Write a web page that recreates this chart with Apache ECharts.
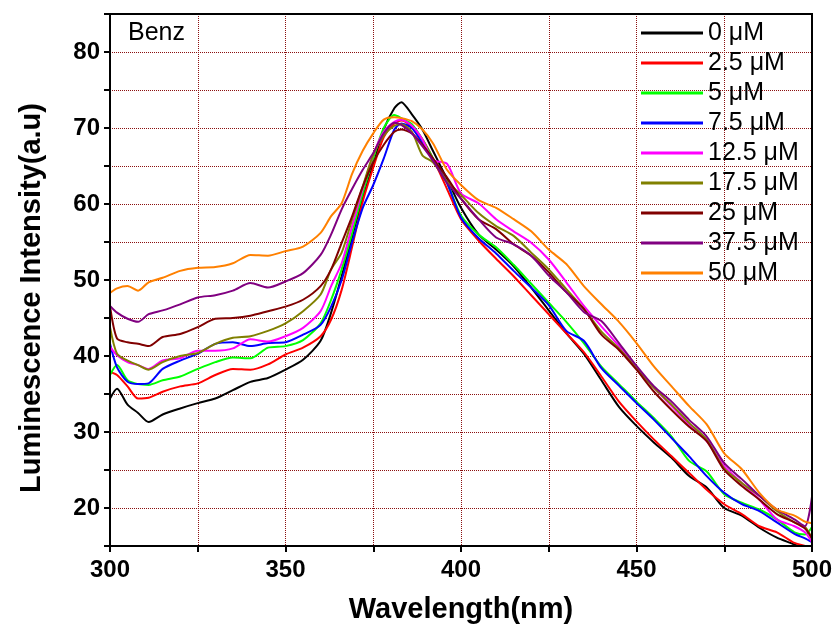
<!DOCTYPE html>
<html>
<head>
<meta charset="utf-8">
<script src="https://cdn.jsdelivr.net/npm/echarts@6/dist/echarts.min.js"></script>
<style>
  html, body { margin: 0; padding: 0; background: #fff; }
  #main { width: 839px; height: 628px; }
</style>
</head>
<body>
<div id="main"></div>
<script>
var wl = [300, 302, 305, 308, 311, 315, 320, 325, 330, 335,
          340, 345, 350, 355, 360, 363, 366, 369, 372, 375,
          378, 381, 383, 386, 389, 392, 396, 400, 405, 410,
          415, 420, 425, 430, 435, 440, 445, 450, 455, 460,
          465, 470, 475, 480, 485, 490, 495, 498, 500];

var names = ['0 μM', '2.5 μM', '5 μM', '7.5 μM', '12.5 μM', '17.5 μM', '25 μM', '37.5 μM', '50 μM'];
var colors = ['#000000', '#ff0000', '#00ff00', '#0000ff', '#ff00ff', '#808000', '#800000', '#800080', '#ff8000'];

var c0 = [34.4, 35.7, 33.6, 32.5, 31.3, 32.3, 33.1, 33.8, 34.4, 35.5,
          36.6, 37.1, 38.2, 39.5, 42.0, 45.7, 50.5, 55.7, 60.8, 65.2,
          69.8, 72.6, 73.4, 71.8, 69.8, 67.0, 63.3, 59.5, 56.0, 54.0,
          51.8, 49.0, 46.0, 43.0, 40.3, 36.8, 33.3, 30.8, 28.6, 26.6,
          24.2, 22.7, 20.0, 19.0, 17.4, 16.1, 15.2, 14.5, 14.0];
var c25 = [37.9, 37.5, 36.0, 34.4, 34.5, 35.3, 36.0, 36.4, 37.5, 38.3,
           38.2, 38.9, 40.2, 41.1, 42.6, 44.8, 48.7, 54.4, 60.3, 64.8,
           68.8, 70.6, 71.0, 70.2, 68.5, 66.0, 62.0, 58.0, 55.2, 52.8,
           50.5, 48.0, 45.5, 43.0, 40.5, 37.3, 34.0, 31.4, 29.0, 26.8,
           24.6, 22.4, 20.5, 19.2, 17.6, 16.8, 15.4, 15.0, 14.5];
var c5 = [37.5, 38.8, 36.8, 36.3, 36.2, 36.8, 37.3, 38.3, 39.2, 39.8,
          39.7, 41.1, 41.3, 42.1, 44.3, 47.4, 51.4, 56.2, 61.4, 66.0,
          70.0, 71.7, 71.3, 70.5, 68.5, 66.0, 62.8, 58.5, 56.0, 54.3,
          52.0, 49.5, 47.0, 44.5, 41.7, 38.6, 36.3, 34.0, 31.8, 29.4,
          26.2, 24.8, 21.8, 20.7, 19.8, 18.5, 16.8, 16.5, 17.5];
var c75 = [41.6, 38.5, 36.6, 36.3, 36.4, 38.3, 39.4, 40.3, 41.6, 41.8,
           41.3, 41.7, 41.8, 42.8, 44.1, 46.5, 50.0, 55.0, 59.5, 62.5,
           66.0, 69.8, 70.6, 70.0, 68.0, 65.9, 62.8, 58.2, 55.5, 53.5,
           51.2, 49.0, 46.7, 43.3, 42.0, 38.4, 36.1, 33.8, 31.6, 29.2,
           26.8, 24.2, 22.0, 20.5, 19.6, 18.1, 16.6, 16.0, 15.5];
var c125 = [41.2, 40.1, 39.2, 38.8, 38.3, 39.4, 39.7, 40.7, 40.7, 41.0,
            42.2, 41.9, 42.6, 43.7, 45.9, 49.2, 52.2, 57.1, 62.0, 66.5,
            69.5, 70.8, 71.1, 70.3, 68.5, 65.8, 65.3, 61.4, 60.1, 58.0,
            56.4, 54.9, 52.7, 49.7, 46.6, 43.9, 41.3, 38.4, 35.8, 33.4,
            31.0, 28.8, 25.5, 23.3, 21.1, 18.5, 17.6, 16.8, 15.5];
var c175 = [43.8, 40.3, 39.4, 38.8, 38.2, 39.2, 40.0, 40.4, 41.6, 42.4,
            42.6, 43.3, 44.3, 45.9, 48.1, 51.4, 53.6, 58.0, 62.3, 66.5,
            69.0, 70.3, 70.5, 69.5, 66.4, 65.5, 63.0, 61.2, 58.8, 57.1,
            55.8, 53.6, 51.4, 48.8, 46.2, 43.2, 41.0, 38.4, 35.8, 33.6,
            31.2, 29.0, 25.2, 23.3, 21.6, 19.6, 18.1, 17.5, 16.0];
var c250 = [46.6, 42.3, 41.8, 41.6, 41.3, 42.5, 42.9, 43.8, 44.9, 45.0,
            45.3, 45.9, 46.5, 47.4, 49.2, 51.4, 54.9, 58.4, 62.3, 65.5,
            67.8, 69.5, 69.8, 69.3, 67.8, 66.0, 63.5, 60.7, 58.0, 56.7,
            54.7, 53.2, 51.0, 48.4, 46.2, 42.8, 40.8, 38.2, 35.3, 32.9,
            30.7, 28.8, 25.0, 22.9, 21.1, 19.2, 18.1, 17.3, 16.0];
var c375 = [46.6, 45.7, 44.9, 44.5, 45.5, 46.0, 46.8, 47.7, 48.0, 48.6,
            49.6, 49.0, 49.8, 50.9, 53.3, 56.0, 59.3, 62.0, 64.5, 66.7,
            69.3, 70.7, 70.4, 69.3, 67.6, 65.7, 62.8, 60.7, 58.0, 55.6,
            54.7, 53.2, 50.6, 48.4, 45.8, 44.6, 41.7, 38.7, 36.0, 34.0,
            31.6, 29.4, 25.9, 23.8, 21.6, 19.8, 18.5, 17.6, 21.5];
var c500 = [48.3, 48.9, 49.2, 48.6, 49.7, 50.3, 51.2, 51.6, 51.7, 52.2,
            53.3, 53.2, 53.8, 54.4, 56.2, 58.4, 60.1, 64.0, 67.0, 69.3,
            71.1, 71.4, 71.3, 70.9, 69.8, 68.0, 64.5, 62.5, 60.5, 59.5,
            58.0, 56.4, 54.0, 52.1, 49.2, 46.8, 44.5, 41.7, 38.6, 36.0,
            33.4, 31.0, 27.2, 25.1, 22.0, 19.8, 19.0, 18.2, 18.0];

var curves = [c0, c25, c5, c75, c125, c175, c250, c375, c500];

var font = '"Liberation Sans", Arial, sans-serif';

var myChart = echarts.init(document.getElementById('main'));

var series = curves.map(function (vals, i) {
    return {
        name: names[i],
        type: 'line',
        data: wl.map(function (x, j) { return [x, vals[j]]; }),
        symbol: 'none',
        smooth: 0.25,
        clip: true,
        lineStyle: { color: colors[i], width: 2 },
        itemStyle: { color: colors[i] }
    };
});

var option = {
    animation: false,
    backgroundColor: '#fff',
    grid: { left: 110, right: 27, top: 14, bottom: 82 },
    legend: {
        orient: 'vertical',
        left: 641,
        top: 18,
        padding: 0,
        itemGap: 0,
        itemWidth: 62,
        itemHeight: 3,
        icon: 'rect',
        data: names,
        textStyle: { fontFamily: font, fontSize: 25, color: '#000', lineHeight: 30 }
    },
    xAxis: {
        type: 'value',
        min: 300, max: 500, interval: 25,
        axisLine: { lineStyle: { color: '#000', width: 2 } },
        axisTick: { show: true, length: 6, lineStyle: { color: '#000', width: 2 } },
        axisLabel: {
            margin: 12,
            fontFamily: font, fontSize: 24, fontWeight: 'bold', color: '#000',
            formatter: function (v) { return v % 50 === 0 ? v : ''; }
        },
        splitLine: { show: true, lineStyle: { color: '#8b1010', type: 'dotted', width: 1 } }
    },
    yAxis: {
        type: 'value',
        min: 15, max: 85, interval: 5,
        axisLine: { show: true, lineStyle: { color: '#000', width: 2 } },
        axisTick: { show: true, length: 6, lineStyle: { color: '#000', width: 2 } },
        axisLabel: {
            margin: 10,
            fontFamily: font, fontSize: 24, fontWeight: 'bold', color: '#000',
            formatter: function (v) { return v % 10 === 0 ? v : ''; }
        },
        splitLine: { show: true, lineStyle: { color: '#8b1010', type: 'dotted', width: 1 } }
    },
    graphic: [
        {
            type: 'rect', z: 100,
            shape: { x: 110, y: 14, width: 702, height: 532 },
            style: { fill: null, stroke: '#000', lineWidth: 2 }
        },
        {
            type: 'text', x: 128, y: 33,
            style: { text: 'Benz', font: '25px ' + font, fill: '#000', textVerticalAlign: 'middle' }
        },
        {
            type: 'text', x: 461, y: 610,
            style: { text: 'Wavelength(nm)', font: 'bold 29px ' + font, fill: '#000',
                     textAlign: 'center', textVerticalAlign: 'middle' }
        },
        {
            type: 'text', x: 32, y: 298, rotation: Math.PI / 2,
            style: { text: 'Luminescence Intensity(a.u)', font: 'bold 29px ' + font, fill: '#000',
                     textAlign: 'center', textVerticalAlign: 'middle' }
        }
    ],
    series: series
};

myChart.setOption(option);
</script>
</body>
</html>
